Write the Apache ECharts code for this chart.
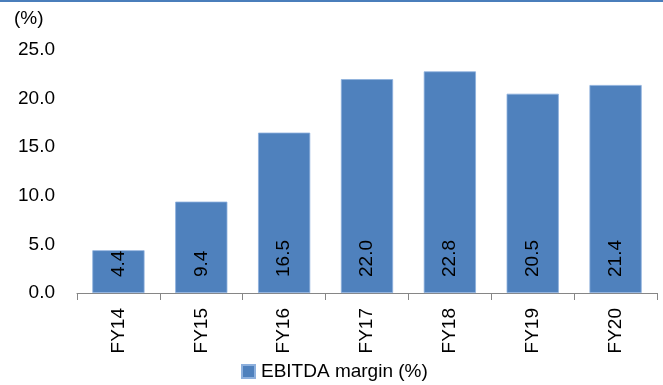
<!DOCTYPE html>
<html>
<head>
<meta charset="utf-8">
<script src="https://cdn.jsdelivr.net/npm/echarts@6/dist/echarts.min.js"></script>
<style>
html,body{margin:0;padding:0;background:#fff;}
#c{width:663px;height:385px;}
</style>
</head>
<body>
<div id="c"></div>
<script>
const categories = ['FY14','FY15','FY16','FY17','FY18','FY19','FY20'];
const ebitdaMargin = [4.4, 9.4, 16.5, 22.0, 22.8, 20.5, 21.4];
const yTicks = [0, 5, 10, 15, 20, 25];
const seriesName = 'EBITDA margin (%)';
const unitLabel = '(%)';

const FONT = 'Liberation Sans, Arial, sans-serif';
const FS = 19;
const chart = echarts.init(document.getElementById('c'), null, {renderer: 'canvas'});
chart.setOption({
  animation: false,
  backgroundColor: '#fff',
  grid: {left: 77, right: 6, top: 50, bottom: 92, containLabel: false},
  graphic: [
    {type: 'rect', shape: {x: 0, y: 0, width: 663, height: 2}, style: {fill: '#4a7ebb'}},
    {type: 'text', left: 14, top: 9, style: {text: unitLabel, font: FS + 'px ' + FONT, fill: '#000'}}
  ],
  legend: {
    left: 236, top: 357,
    itemWidth: 13, itemHeight: 13, itemGap: 10,
    icon: 'rect',
    textStyle: {fontSize: FS, fontFamily: FONT, color: '#000', padding: [0, 0, 0, 1]},
    data: [seriesName]
  },
  xAxis: {
    type: 'category',
    data: categories,
    boundaryGap: true,
    axisLine: {lineStyle: {color: '#868686', width: 1}},
    axisTick: {show: true, length: 7, lineStyle: {color: '#868686'}},
    axisLabel: {rotate: 90, margin: 15, fontSize: FS, fontFamily: FONT, color: '#000'}
  },
  yAxis: {
    type: 'value',
    min: yTicks[0], max: yTicks[yTicks.length - 1], interval: 5,
    axisLine: {show: false},
    axisTick: {show: false},
    splitLine: {show: false},
    axisLabel: {
      margin: 22, fontSize: FS, fontFamily: FONT, color: '#000',
      formatter: v => v.toFixed(1)
    }
  },
  series: [{
    name: seriesName,
    type: 'bar',
    data: ebitdaMargin,
    barWidth: '63%',
    itemStyle: {color: '#4f81bd', borderColor: '#8db0dd', borderWidth: 0.8},
    label: {
      show: true,
      position: 'insideBottom',
      rotate: 90,
      align: 'left',
      verticalAlign: 'middle',
      distance: 16,
      fontSize: FS,
      fontFamily: FONT,
      color: '#000',
      formatter: p => p.value.toFixed(1)
    }
  }]
});
</script>
</body>
</html>
